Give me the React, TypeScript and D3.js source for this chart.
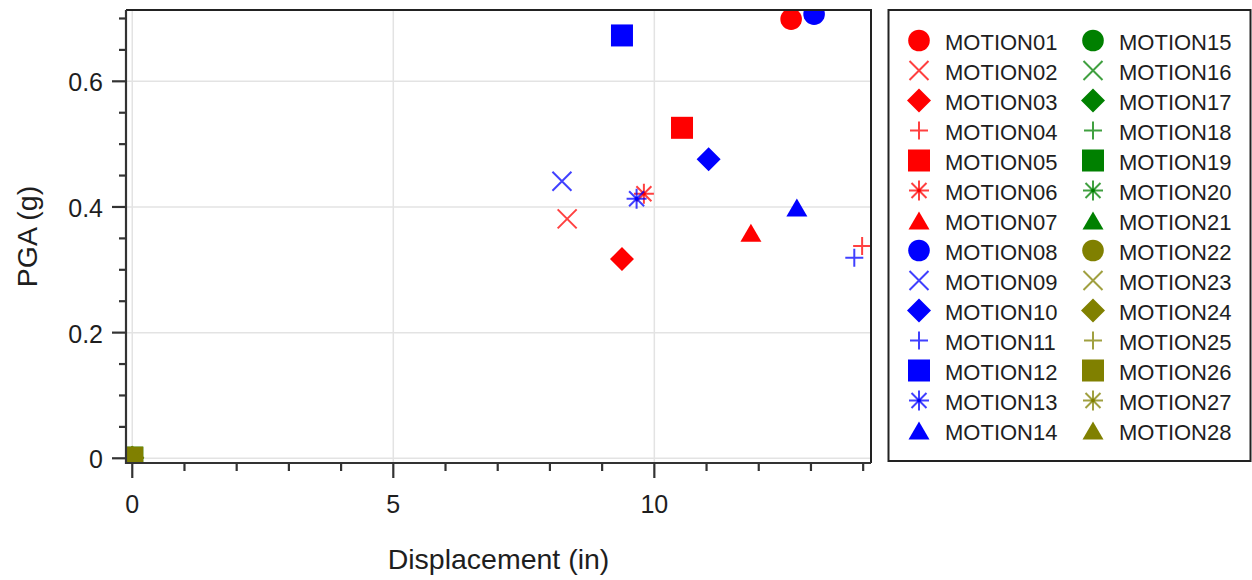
import React from 'react';
import * as d3 from 'd3';

// values
const motionNames = [
  'MOTION01', 'MOTION02', 'MOTION03', 'MOTION04', 'MOTION05', 'MOTION06', 'MOTION07',
  'MOTION08', 'MOTION09', 'MOTION10', 'MOTION11', 'MOTION12', 'MOTION13', 'MOTION14',
  'MOTION15', 'MOTION16', 'MOTION17', 'MOTION18', 'MOTION19', 'MOTION20', 'MOTION21',
  'MOTION22', 'MOTION23', 'MOTION24', 'MOTION25', 'MOTION26', 'MOTION27', 'MOTION28',
];
const displacementIn = [
  12.62, 8.33, 9.38, 13.98, 10.53, 9.8, 11.85,
  13.06, 8.23, 11.04, 13.83, 9.38, 9.66, 12.73,
  0, 0, 0, 0, 0, 0, 0,
  0, 0, 0, 0, 0, 0, 0,
];
const pgaG = [
  0.699, 0.381, 0.317, 0.338, 0.526, 0.421, 0.359,
  0.707, 0.441, 0.476, 0.319, 0.673, 0.413, 0.399,
  0.001, 0.001, 0.001, 0.001, 0.001, 0.001, 0.001,
  0.001, 0.001, 0.001, 0.001, 0.001, 0.001, 0.001,
];
const groupColors = ['#ff0000', '#0000ff', '#008000', '#808000'];
const markerShapes = ['circle', 'cross', 'diamond', 'plus', 'square', 'star', 'triangle'];
const xMajorTicks = [0, 5, 10];
const xMinorTicks = [0, 1, 2, 3, 4, 5, 6, 7, 8, 9, 10, 11, 12, 13, 14];
const yMajorTicks = [0, 0.2, 0.4, 0.6];
const yMinorTicks = [0, 0.05, 0.1, 0.15, 0.2, 0.25, 0.3, 0.35, 0.4, 0.45, 0.5, 0.55, 0.6, 0.65, 0.7];

const W = 1252;
const H = 580;
const plot = { left: 126, top: 10, right: 871, bottom: 463 };
const axisFont = '"Liberation Sans", Arial, sans-serif';
const textColor = '#1e1e1e';

const Marker = ({ shape, color, x, y }: { shape: string; color: string; x: number; y: number }) => {
  const t = `translate(${x},${y})`;
  const line = { stroke: color, strokeWidth: 2, strokeOpacity: 0.75, fill: 'none' };
  switch (shape) {
    case 'circle':
      return <circle cx={x} cy={y} r={10.8} fill={color} />;
    case 'square':
      return <rect x={x - 11} y={y - 11} width={22} height={22} fill={color} />;
    case 'diamond':
      return <path transform={t} d="M0,-12L12,0L0,12L-12,0Z" fill={color} />;
    case 'triangle':
      return <path transform={t} d="M0,-9L10.5,9L-10.5,9Z" fill={color} />;
    case 'cross':
      return <path transform={t} d="M-9.5,-9.5L9.5,9.5M-9.5,9.5L9.5,-9.5" {...line} />;
    case 'plus':
      return <path transform={t} d="M-9,0L9,0M0,-9L0,9" {...line} />;
    default:
      return (
        <g transform={t}>
          <path d="M-10,0L10,0M0,-10L0,10M-7.5,-7.5L7.5,7.5M-7.5,7.5L7.5,-7.5" {...line} />
          <circle r={2} fill={color} />
        </g>
      );
  }
};

export default function App() {
  const x = d3.scaleLinear().domain([-0.12, 14.15]).range([plot.left, plot.right]);
  const y = d3.scaleLinear().domain([-0.0075, 0.7135]).range([plot.bottom, plot.top]);
  const colorOf = (i: number) => groupColors[Math.floor(i / 7)];
  const shapeOf = (i: number) => markerShapes[i % 7];

  return (
    <div style={{ position: 'absolute', left: 0, top: 0 }}>
      <svg width={W} height={H} style={{ display: 'block', background: '#fff' }}>
        <defs>
          <clipPath id="plotClip">
            <rect x={plot.left} y={plot.top} width={plot.right - plot.left} height={plot.bottom - plot.top} />
          </clipPath>
        </defs>

        {/* grid */}
        <g stroke="#e3e3e3" strokeWidth={1.5}>
          {xMajorTicks.map(v => (
            <line key={'gx' + v} x1={x(v)} x2={x(v)} y1={plot.top} y2={plot.bottom} />
          ))}
          {yMajorTicks.map(v => (
            <line key={'gy' + v} x1={plot.left} x2={plot.right} y1={y(v)} y2={y(v)} />
          ))}
        </g>

        {/* points */}
        <g clipPath="url(#plotClip)">
          {motionNames.map((name, i) => (
            <Marker key={name} shape={shapeOf(i)} color={colorOf(i)} x={x(displacementIn[i])} y={y(pgaG[i])} />
          ))}
        </g>

        {/* frame */}
        <path
          d={`M${plot.left},${plot.top}H${plot.right}V${plot.bottom}`}
          fill="none" stroke="#222" strokeWidth={2}
        />

        {/* axes */}
        <g stroke="#333" strokeWidth={2.2}>
          <line x1={plot.left} x2={plot.left} y1={plot.top} y2={plot.bottom + 1} />
          <line x1={plot.left - 1} x2={plot.right} y1={plot.bottom} y2={plot.bottom} />
          {xMinorTicks.map(v => (
            <line key={'xm' + v} x1={x(v)} x2={x(v)} y1={plot.bottom} y2={plot.bottom + (xMajorTicks.includes(v) ? 15 : 8)} />
          ))}
          {yMinorTicks.map(v => (
            <line key={'ym' + v} y1={y(v)} y2={y(v)} x1={plot.left} x2={plot.left - (yMajorTicks.some(m => Math.abs(m - v) < 1e-9) ? 14 : 7)} />
          ))}
        </g>

        <g fontFamily={axisFont} fontSize={25} fill={textColor}>
          {xMajorTicks.map(v => (
            <text key={'xl' + v} x={x(v)} y={513} textAnchor="middle">{v}</text>
          ))}
          {yMajorTicks.map(v => (
            <text key={'yl' + v} x={103} y={y(v) + 10} textAnchor="end">{d3.format('~g')(v)}</text>
          ))}
        </g>

        <g fontFamily={axisFont} fontSize={28.5} fill={textColor}>
          <text x={(plot.left + plot.right) / 2} y={569} textAnchor="middle">Displacement (in)</text>
          <text transform={`translate(36.5,${(plot.top + plot.bottom) / 2}) rotate(-90)`} textAnchor="middle">PGA (g)</text>
        </g>

        {/* legend */}
        <rect x={888.5} y={10} width={362} height={451} fill="#fff" stroke="#222" strokeWidth={2} />
        <g fontFamily={axisFont} fontSize={22} fill={textColor}>
          {motionNames.map((name, i) => {
            const col = Math.floor(i / 14);
            const row = i % 14;
            const cy = 40.5 + row * 30;
            const mx = col === 0 ? 919 : 1093;
            return (
              <g key={'lg' + name}>
                <Marker shape={shapeOf(i)} color={colorOf(i)} x={mx} y={cy} />
                <text x={mx + 26} y={cy + 9}>{name}</text>
              </g>
            );
          })}
        </g>
      </svg>
    </div>
  );
}
